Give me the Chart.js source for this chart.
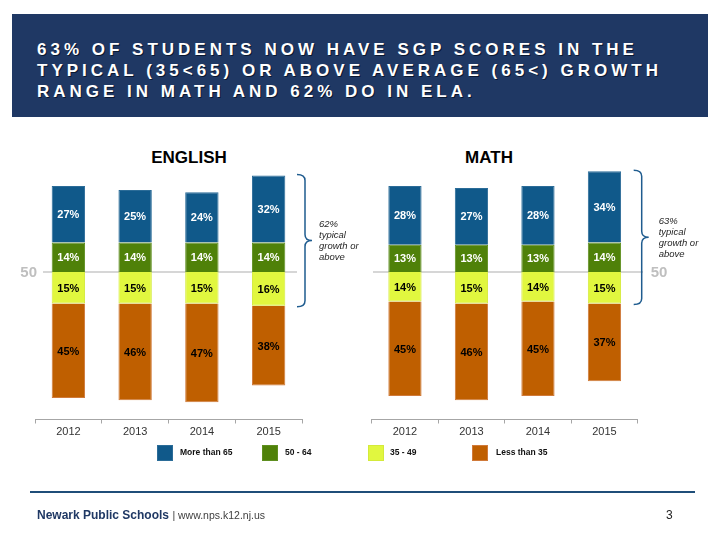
<!DOCTYPE html>
<html><head><meta charset="utf-8">
<script src="https://cdn.jsdelivr.net/npm/chart.js@4"></script>
<style>
body{margin:0;width:720px;height:540px;position:relative;background:#fff;font-family:"Liberation Sans",Arial,sans-serif;overflow:hidden}
#banner{position:absolute;left:12px;top:14px;width:671px;height:78px;padding:25px 0 0 25px;background:#1F3864;color:#fff;font-weight:bold;font-size:17px;line-height:21px;letter-spacing:4px;text-shadow:1px 1px 0 #0a1730}
.ctitle{position:absolute;top:148px;width:200px;text-align:center;font-weight:bold;font-size:17px;line-height:20px;color:#000}
canvas{position:absolute;left:0;top:0}
.lg{position:absolute;top:445px;width:14px;height:14px;border:1px solid}
.lt{position:absolute;top:446px;font-size:8.5px;font-weight:bold;line-height:12px;color:#111}
#fline{position:absolute;left:30px;top:491px;width:665px;height:2px;background:#1F4E79}
#ftext{position:absolute;left:37px;top:508px;font-size:12px;line-height:14px;color:#1F3864;font-weight:bold;white-space:nowrap}
#ftext span{font-weight:normal;font-size:10.5px;color:#404040}
#pnum{position:absolute;left:666px;top:508px;font-size:12px;line-height:14px;color:#222}
</style></head><body>
<div id="banner">63% OF STUDENTS NOW HAVE SGP SCORES IN THE<br>TYPICAL (35&lt;65) OR ABOVE AVERAGE (65&lt;) GROWTH<br>RANGE IN MATH AND 62% DO IN ELA.</div>
<div class="ctitle" style="left:89px">ENGLISH</div>
<div class="ctitle" style="left:389px">MATH</div>
<canvas id="c1" width="720" height="540"></canvas>
<canvas id="c2" width="720" height="540"></canvas>
<div id="legend"></div>
<div id="fline"></div>
<div id="ftext">Newark Public Schools <span>| www.nps.k12.nj.us</span></div>
<div id="pnum">3</div>
<script>
const years = ['2012','2013','2014','2015'];
const englishAbove65 = [27,25,24,32];
const english50to64 = [14,14,14,14];
const english35to49 = [15,15,15,16];
const englishBelow35 = [45,46,47,38];
const mathAbove65 = [28,27,28,34];
const math50to64 = [13,13,13,14];
const math35to49 = [14,15,14,15];
const mathBelow35 = [45,46,45,37];
const seriesNames = ['More than 65','50 - 64','35 - 49','Less than 35'];
const centerLabel = '50';
const englishNote = ['62%','typical','growth or','above'];
const mathNote = ['63%','typical','growth or','above'];

const COLORS = ['#10598A','#4F8109','#E1F73F','#BF5F00'];
const BORDERS = ['#2B6C98','#5F8F20','#D4EA3A','#D07A3A'];
const FONT = '"Liberation Sans", Arial, sans-serif';

// legend
(function(){
  const lg = document.getElementById('legend');
  const sx = [157,262,368,472], tx = [180,285,390,496];
  seriesNames.forEach((n,i)=>{
    const s = document.createElement('div'); s.className='lg';
    s.style.left = sx[i]+'px'; s.style.background = COLORS[i]; s.style.borderColor = BORDERS[i];
    lg.appendChild(s);
    const t = document.createElement('div'); t.className='lt'; t.style.left = tx[i]+'px'; t.textContent = n;
    lg.appendChild(t);
  });
})();

const decor = {
  id:'decor',
  beforeDatasetsDraw(chart, args, o){
    const ctx = chart.ctx, y = chart.scales.y, a = chart.chartArea;
    const y0 = y.getPixelForValue(0);
    ctx.save();
    ctx.strokeStyle = '#C8C8C8'; ctx.lineWidth = 1.5;
    ctx.beginPath(); ctx.moveTo(a.left + o.lineL, y0); ctx.lineTo(a.right + o.lineR, y0); ctx.stroke();
    ctx.fillStyle = '#BFBFBF'; ctx.font = 'bold 15px ' + FONT; ctx.textBaseline = 'middle';
    if (o.numSide === 'left') { ctx.textAlign = 'right'; ctx.fillText(centerLabel, a.left + o.numOff, y0 + 1); }
    else { ctx.textAlign = 'left'; ctx.fillText(centerLabel, a.right + o.numOff, y0 + 1); }
    ctx.restore();
  },
  afterDatasetsDraw(chart, args, o){
    const ctx = chart.ctx, y = chart.scales.y, a = chart.chartArea;
    ctx.save();
    ctx.font = 'bold 11px ' + FONT; ctx.textAlign = 'center'; ctx.textBaseline = 'middle';
    chart.data.datasets.forEach((ds, di) => {
      const meta = chart.getDatasetMeta(di);
      ctx.fillStyle = ds.labelColor;
      meta.data.forEach((el, i) => {
        const v = Math.abs(ds.data[i]);
        ctx.fillText(v + '%', el.x, (el.y + el.base) / 2 + 1);
      });
    });
    // bracket
    const last = chart.data.labels.length - 1;
    const dsets = chart.data.datasets;
    const topV = dsets[0].data[last] + dsets[1].data[last];
    const botV = dsets[2].data[last];
    const t = y.getPixelForValue(topV) - 1, b = y.getPixelForValue(botV) + 1, m = (t + b) / 2;
    const bx = a.right + o.bx;
    ctx.strokeStyle = '#1F5C8F'; ctx.lineWidth = 1.5;
    ctx.beginPath();
    ctx.moveTo(bx - 8, t);
    ctx.quadraticCurveTo(bx, t, bx, t + 6);
    ctx.lineTo(bx, m - 6);
    ctx.quadraticCurveTo(bx, m, bx + 7, m);
    ctx.quadraticCurveTo(bx, m, bx, m + 6);
    ctx.lineTo(bx, b - 6);
    ctx.quadraticCurveTo(bx, b, bx - 8, b);
    ctx.stroke();
    ctx.fillStyle = '#262626'; ctx.font = 'italic 9.5px ' + FONT; ctx.textAlign = 'left';
    o.note.forEach((line, i) => ctx.fillText(line, bx + o.tx, m - 16 + i * 11));
    ctx.restore();
  }
};

function makeChart(id, above, mid, low, bottom, opts){
  return new Chart(document.getElementById(id), {
    type: 'bar',
    data: {
      labels: years,
      datasets: [
        {label: seriesNames[1], data: mid, backgroundColor: COLORS[1], borderColor: BORDERS[1], borderWidth: 1, labelColor: '#fff'},
        {label: seriesNames[0], data: above, backgroundColor: COLORS[0], borderColor: BORDERS[0], borderWidth: 1, labelColor: '#fff'},
        {label: seriesNames[2], data: low.map(v => -v), backgroundColor: COLORS[2], borderColor: BORDERS[2], borderWidth: 1, labelColor: '#000'},
        {label: seriesNames[3], data: bottom.map(v => -v), backgroundColor: COLORS[3], borderColor: BORDERS[3], borderWidth: 1, labelColor: '#000'}
      ]
    },
    options: {
      responsive: false, animation: false, devicePixelRatio: 1,
      layout: {padding: {left: opts.left, right: opts.right, top: 167, bottom: 100.5}},
      datasets: {bar: {categoryPercentage: 1, barPercentage: 0.5}},
      plugins: {legend: {display: false}, tooltip: {enabled: false}, title: {display: false},
        decor: opts.decor},
      scales: {
        x: {stacked: true, afterFit(s){ s.height = 20; },
            border: {display: true, color: '#A6A6A6', width: 1},
            grid: {display: true, drawOnChartArea: false, drawTicks: true, tickLength: 4, color: '#A6A6A6', offset: true},
            ticks: {font: {family: FONT, size: 11}, color: '#333', padding: 2}},
        y: {stacked: true, display: false, min: -70.2, max: 50}
      }
    },
    plugins: [decor]
  });
}

makeChart('c1', englishAbove65, english50to64, english35to49, englishBelow35,
  {left: 35, right: 418, decor: {lineL: 8, lineR: -5, numSide: 'left', numOff: 2, bx: 3, tx: 14, note: englishNote}});
makeChart('c2', mathAbove65, math50to64, math35to49, mathBelow35,
  {left: 371.7, right: 82.3, decor: {lineL: 1.3, lineR: 5.3, numSide: 'right', numOff: 13, bx: 4, tx: 17, note: mathNote}});
</script>
</body></html>
